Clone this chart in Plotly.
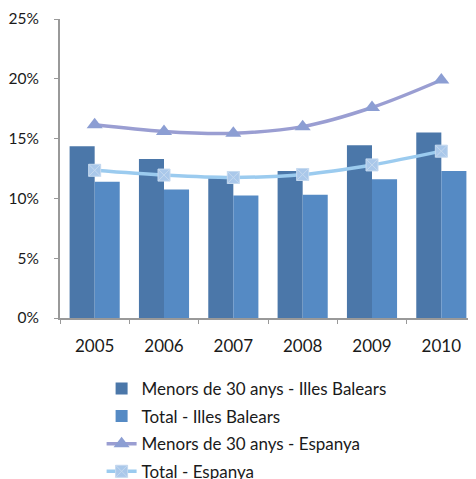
import plotly.graph_objects as go

years = ["2005", "2006", "2007", "2008", "2009", "2010"]
menors_balears = [14.35, 13.3, 11.7, 12.3, 14.45, 15.5]
total_balears = [11.4, 10.75, 10.25, 10.3, 11.6, 12.3]
menors_espanya = [16.15, 15.6, 15.45, 16.0, 17.6, 19.9]
total_espanya = [12.35, 11.95, 11.75, 12.0, 12.8, 13.95]

names = ["Menors de 30 anys - Illes Balears", "Total - Illes Balears",
         "Menors de 30 anys - Espanya", "Total - Espanya"]

fig = go.Figure()
fig.add_trace(go.Bar(x=years, y=menors_balears, name=names[0], legendgroup="a",
                     marker=dict(color="#4B77A9", line=dict(width=0))))
fig.add_trace(go.Bar(x=years, y=total_balears, name=names[1], legendgroup="b",
                     marker=dict(color="#558AC4", line=dict(width=0))))
fig.add_trace(go.Scatter(x=years, y=menors_espanya, name=names[2], mode="lines+markers",
                         legendgroup="c",
                         line=dict(color="#9A9ED2", width=3.5, shape="spline"),
                         marker=dict(symbol="triangle-up", size=14, color="#8C9ED3")))
fig.add_trace(go.Scatter(x=years, y=total_espanya, name=names[3], mode="lines+markers",
                         legendgroup="d",
                         line=dict(color="#9BCBEF", width=3.5, shape="spline"),
                         marker=dict(symbol="square-x", size=12, color="#AAC8EA",
                                     line=dict(color="#C5D9EF", width=1))))

fig.update_layout(
    width=468, height=540,
    margin=dict(l=49, r=0, t=11, b=229.5),
    paper_bgcolor="white", plot_bgcolor="white",
    barmode="group", bargap=0.277, bargroupgap=0,
    font=dict(family="Lato, sans-serif", size=16, color="#1a1a1a"),
    showlegend=True,
    legend=dict(orientation="v", x=0.10, xanchor="left", y=-0.177, yanchor="top",
                font=dict(size=17), itemwidth=30, tracegroupgap=2.5,
                bgcolor="rgba(0,0,0,0)"),
)
fig.update_xaxes(showline=True, linecolor="#999999", linewidth=2,
                 ticks="outside", tickson="boundaries", ticklen=4, tickcolor="#999999",
                 showgrid=False, range=[-0.5, 5.5], ticklabelstandoff=12,
                 tickfont=dict(size=17))
fig.update_yaxes(range=[0, 25], dtick=5, ticksuffix="%", showline=True,
                 linecolor="#999999", linewidth=2, ticks="outside", ticklen=4,
                 tickcolor="#999999", showgrid=False, zeroline=False,
                 ticklabelstandoff=12, tickfont=dict(size=15.5))

fig.write_html("out.html")
